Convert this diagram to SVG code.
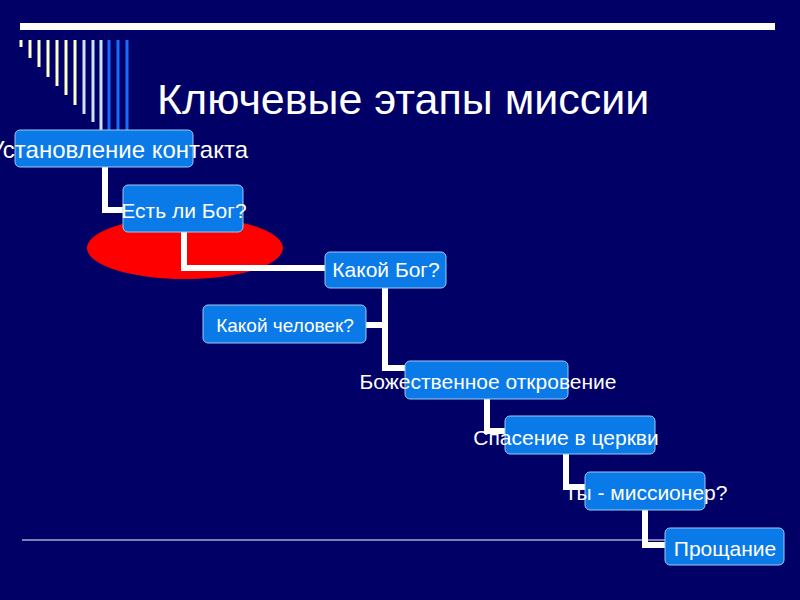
<svg xmlns="http://www.w3.org/2000/svg" width="800" height="600" viewBox="0 0 800 600">
<style>
.b{fill:#0a7ae8;stroke:#9cc8f0;stroke-width:1}
.t{fill:#fff;font-family:"Liberation Sans",Arial,sans-serif;font-size:21px}
.c{fill:none;stroke:#fff;stroke-width:6}
</style>
<rect width="800" height="600" fill="#000066"/>
<rect x="20" y="23" width="755" height="7" fill="#fff"/>
<g stroke-width="3">
<line x1="21" y1="40" x2="21" y2="47" stroke="#ffffcc"/>
<line x1="30" y1="40" x2="30" y2="58" stroke="#ffffcc"/>
<line x1="39" y1="40" x2="39" y2="67" stroke="#ffffcc"/>
<line x1="48" y1="40" x2="48" y2="77" stroke="#ffffcc"/>
<line x1="57" y1="40" x2="57" y2="86" stroke="#ffffcc"/>
<line x1="66" y1="40" x2="66" y2="95" stroke="#ffffcc"/>
<line x1="75" y1="40" x2="75" y2="105" stroke="#ffffcc"/>
<line x1="84" y1="40" x2="84" y2="114" stroke="#cce5ff"/>
<line x1="93" y1="40" x2="93" y2="122" stroke="#cce5ff"/>
<line x1="101" y1="40" x2="101" y2="130" stroke="#cce5ff"/>
<line x1="109" y1="40" x2="109" y2="130" stroke="#1a6cff"/>
<line x1="118" y1="40" x2="118" y2="130" stroke="#1a6cff"/>
<line x1="127" y1="40" x2="127" y2="130" stroke="#1a6cff"/>
</g>
<line x1="22" y1="540" x2="670" y2="540" stroke="#fff" stroke-width="1"/>
<text x="157" y="114" fill="#fff" font-family="Liberation Sans,Arial,sans-serif" font-size="43">Ключевые этапы миссии</text>
<ellipse cx="185" cy="248" rx="98" ry="31" fill="#ff0000"/>
<g id="connectors">
<path class="c" d="M105 167V210H123"/>
<path class="c" d="M184 232V268H325"/>
<path class="c" d="M385 288V368H405M366 325H385"/>
<path class="c" d="M487 399V431H505"/>
<path class="c" d="M566 454V487H585"/>
<path class="c" d="M645 510V545H665"/>
</g>
<g id="n1"><rect class="b" x="15" y="130" width="178" height="37" rx="5"/><text class="t" x="248" y="158" text-anchor="end" style="font-size:24px">Установление контакта</text></g>
<g id="n2"><rect class="b" x="123" y="185" width="120" height="47" rx="5"/><text class="t" x="184" y="218" text-anchor="middle">Есть ли Бог?</text></g>
<g id="n3"><rect class="b" x="325" y="252" width="121" height="36" rx="5"/><text class="t" x="386" y="277" text-anchor="middle">Какой Бог?</text></g>
<g id="n4"><rect class="b" x="203" y="305" width="163" height="38" rx="5"/><text class="t" x="285" y="332" text-anchor="middle" style="font-size:19px">Какой человек?</text></g>
<g id="n5"><rect class="b" x="405" y="361" width="163" height="38" rx="5"/><text class="t" x="488" y="389" text-anchor="middle">Божественное откровение</text></g>
<g id="n6"><rect class="b" x="505" y="416" width="150" height="38" rx="5"/><text class="t" x="566" y="445" text-anchor="middle">Спасение  в церкви</text></g>
<g id="n7"><rect class="b" x="585" y="472" width="120" height="38" rx="5"/><text class="t" x="646" y="500" text-anchor="middle">Ты - миссионер?</text></g>
<g id="n8"><rect class="b" x="665" y="528" width="119" height="37" rx="5"/><text class="t" x="725" y="556" text-anchor="middle">Прощание</text></g>
</svg>
